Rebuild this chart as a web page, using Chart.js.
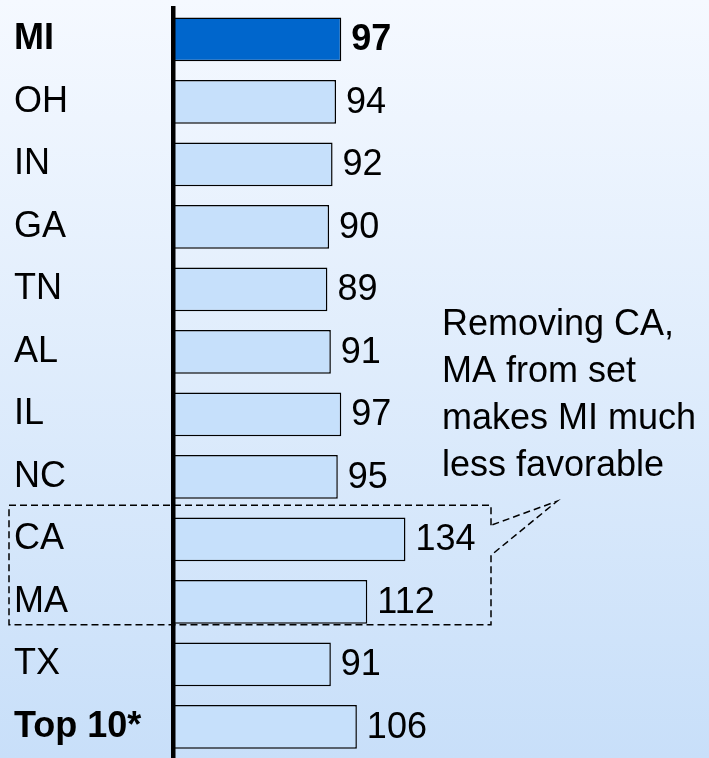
<!DOCTYPE html>
<html>
<head>
<meta charset="utf-8">
<script src="https://cdn.jsdelivr.net/npm/chart.js@4"></script>
<style>
  html, body { margin: 0; padding: 0; }
  body {
    width: 709px; height: 758px; overflow: hidden;
    background: linear-gradient(to bottom, #f5f9ff 0%, #c8dff9 100%);
  }
  #wrap { position: relative; width: 709px; height: 758px; }
</style>
</head>
<body>
<div id="wrap"><canvas id="indexChart"></canvas></div>
<script>
const states = ["MI", "OH", "IN", "GA", "TN", "AL", "IL", "NC", "CA", "MA", "TX", "Top 10*"];
const indexValues = [97, 94, 92, 90, 89, 91, 97, 95, 134, 112, 91, 106];
const boldRows = ["MI", "Top 10*"];
const noteLines = ["Removing CA,", "MA from set", "makes MI much", "less favorable"];

const FONT = "'Liberation Sans', Arial, Helvetica, sans-serif";

// value labels right of each bar
const valueLabels = {
  id: "valueLabels",
  afterDatasetsDraw(chart) {
    const ctx = chart.ctx;
    const meta = chart.getDatasetMeta(0);
    ctx.save();
    ctx.fillStyle = "#000";
    ctx.textBaseline = "middle";
    ctx.textAlign = "left";
    meta.data.forEach((bar, i) => {
      const bold = states[i] === "MI";
      ctx.font = (bold ? "bold " : "") + "36px " + FONT;
      ctx.fillText(String(indexValues[i]), bar.x + 10, bar.y + 1);
    });
    ctx.restore();
  }
};

// dashed box round CA / MA plus the note
const callout = {
  id: "callout",
  afterDraw(chart) {
    const ctx = chart.ctx;
    const y = chart.scales.y;
    const yCA = y.getPixelForValue(states.indexOf("CA"));
    const yMA = y.getPixelForValue(states.indexOf("MA"));
    const top = yCA - 34, bottom = yMA + 23, left = 9, right = 491;

    ctx.save();
    ctx.strokeStyle = "#000";
    ctx.lineWidth = 1.5;
    ctx.setLineDash([7, 4]);
    ctx.beginPath();
    ctx.moveTo(right, yCA - 14);
    ctx.lineTo(right, top);
    ctx.lineTo(left, top);
    ctx.lineTo(left, bottom);
    ctx.lineTo(right, bottom);
    ctx.lineTo(right, yCA + 16);
    ctx.lineTo(557, top - 4);
    ctx.lineTo(right, yCA - 14);
    ctx.stroke();
    ctx.setLineDash([]);

    ctx.fillStyle = "#000";
    ctx.font = "36px " + FONT;
    ctx.textAlign = "left";
    ctx.textBaseline = "alphabetic";
    noteLines.forEach((line, i) => ctx.fillText(line, 442, 335 + i * 47));
    ctx.restore();
  }
};

new Chart(document.getElementById("indexChart").getContext("2d"), {
  type: "bar",
  data: {
    labels: states,
    datasets: [
      {
        label: "Index",
        data: indexValues,
        backgroundColor: states.map((s) => (s === "MI" ? "#0066cc" : "#c6e0fb")),
        borderColor: "#000",
        borderWidth: 1.5,
        categoryPercentage: 1,
        barPercentage: 0.7,
      },
    ],
  },
  options: {
    indexAxis: "y",
    responsive: true,
    maintainAspectRatio: false,
    animation: false,
    layout: { padding: { left: 14, top: 8, right: 0, bottom: 0 } },
    plugins: { legend: { display: false }, tooltip: { enabled: false } },
    scales: {
      x: { display: false, min: 0, max: 309 },
      y: {
        grid: { display: false },
        border: { display: true, color: "#000", width: 4.5, z: 1 },
        afterFit(scale) {
          scale.width = 159;
          scale.paddingTop = 0;
          scale.paddingBottom = 0;
        },
        ticks: {
          autoSkip: false,
          crossAlign: "far",
          color: "#000",
          font: (c) => ({
            size: 36,
            family: FONT,
            weight: boldRows.includes(states[c.index]) ? "bold" : "normal",
          }),
        },
      },
    },
  },
  plugins: [valueLabels, callout],
});
</script>
</body>
</html>
